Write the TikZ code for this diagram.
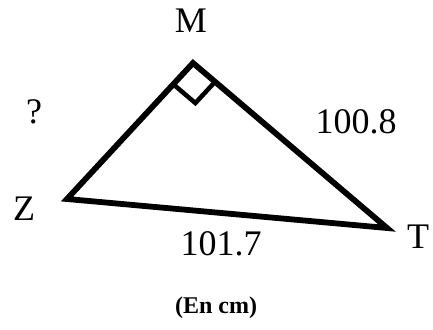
\documentclass[tikz,border=0pt]{standalone}
\usepackage{fontspec}
\setmainfont{Liberation Serif}
\usetikzlibrary{calc}
\begin{document}
\begin{tikzpicture}[x=1pt,y=-1pt,
  lbl/.style={anchor=base,inner sep=0pt,font=\fontsize{36}{42}\selectfont},
  edge/.style={line width=5.8pt,line join=miter,line cap=butt},
  rmark/.style={line width=4.5pt}]
\useasboundingbox (0,0) rectangle (433,329);
\coordinate (Z) at (67,199);
\coordinate (M) at (193,63);
\coordinate (T) at (387,228);
\draw[edge] (Z) -- (M) -- (T) -- cycle;
\coordinate (P1) at ($(M)!29pt!(Z)$);
\coordinate (P2) at ($(M)!29pt!(T)$);
\coordinate (P3) at ($(P1)+(P2)-(M)$);
\draw[rmark] (P1) -- (P3) -- (P2);
\node[lbl] (lM) at (191,33) {M};
\node[lbl] (lQ) at (34,123) {?};
\node[lbl] (lMT) at (356,133) {100.8};
\node[lbl] (lZ) at (24,220) {Z};
\node[lbl] (lT) at (418,248) {T};
\node[lbl] (lZT) at (221,255) {101.7};
\node[anchor=base,inner sep=0pt,font=\fontsize{24}{28}\selectfont\bfseries] (unit) at (216,313) {(En cm)};
\end{tikzpicture}
\end{document}
